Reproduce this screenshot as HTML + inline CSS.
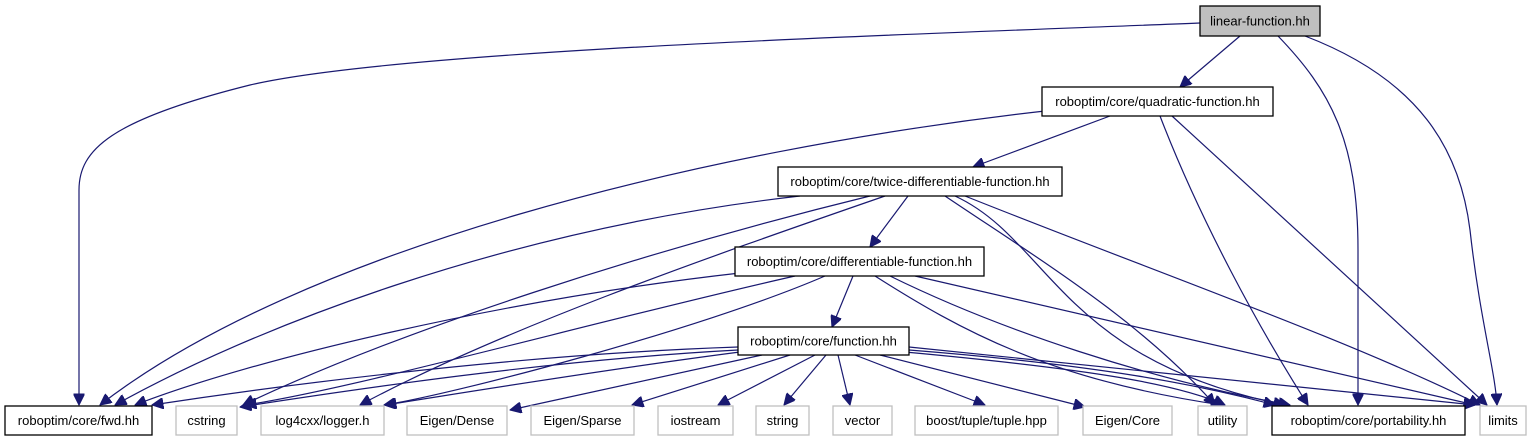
<!DOCTYPE html>
<html><head><meta charset="utf-8"><style>
body{margin:0;background:#fff;}
svg{display:block;}
text{font-family:"Liberation Sans",Arial,sans-serif;font-size:13px;text-anchor:middle;}
.e{fill:none;stroke:#191970;stroke-width:1.2;}
.b{fill:#fff;stroke:#000;stroke-width:1.3;}
.g{fill:#fff;stroke:#bfbfbf;stroke-width:1.3;}
</style></head><body>
<svg width="1531" height="443" viewBox="0 0 1531 443" xmlns="http://www.w3.org/2000/svg">
<defs><marker id="a" viewBox="0 0 10 10" refX="10" refY="5" markerWidth="12" markerHeight="11" markerUnits="userSpaceOnUse" orient="auto"><path d="M0,0 L10,5 L0,10 z" fill="#191970" stroke="#191970"/></marker></defs>
<g class="e" marker-end="url(#a)">
<path d="M1200,23 C900,35 400,50 250,85 C110,120 79,150 79,190 L79,405"/>
<path d="M1240,36 L1180,87"/>
<path d="M1278,36 C1330,90 1358,140 1358,250 L1358,405"/>
<path d="M1305,36 C1420,80 1460,150 1470,230 C1480,320 1495,370 1497,405"/>
<path d="M1045,111 C700,150 300,250 100,405"/>
<path d="M1110,116 L973,167"/>
<path d="M1160,116 C1200,220 1260,330 1308,405"/>
<path d="M1172,116 L1487,405"/>
<path d="M800,196 C500,230 250,330 115,405"/>
<path d="M870,196 C650,250 400,330 243,405"/>
<path d="M885,196 C700,260 500,330 360,405"/>
<path d="M908,196 L870,247"/>
<path d="M945,196 C1040,260 1140,320 1215,405"/>
<path d="M955,196 C1050,240 1060,360 1285,405"/>
<path d="M965,196 C1150,270 1350,340 1480,405"/>
<path d="M740,273 C500,300 250,360 135,405"/>
<path d="M795,276 C600,320 350,390 245,405"/>
<path d="M825,276 C700,330 450,395 384,405"/>
<path d="M853,276 L832,327"/>
<path d="M875,276 C960,330 1050,380 1222,405"/>
<path d="M890,276 C1000,330 1150,380 1290,405"/>
<path d="M915,276 L1475,405"/>
<path d="M738,347 C500,355 250,390 152,405"/>
<path d="M738,350 C550,360 350,390 240,407"/>
<path d="M740,352 C600,370 450,395 385,405"/>
<path d="M762,355 L510,410"/>
<path d="M790,355 L632,405"/>
<path d="M815,355 L718,405"/>
<path d="M826,355 L784,405"/>
<path d="M838,355 L850,405"/>
<path d="M855,355 L985,405"/>
<path d="M880,355 L1085,407"/>
<path d="M905,352 C1100,370 1180,385 1225,405"/>
<path d="M909,350 C1100,365 1200,385 1275,405"/>
<path d="M909,347 L1475,405"/>
</g>
<rect x="1200" y="6" width="120" height="30" fill="#bfbfbf" stroke="#000" stroke-width="1.3"/>
<text x="1260" y="25.5">linear-function.hh</text>
<rect class="b" x="1042" y="87" width="231" height="29"/><text x="1157.5" y="106">roboptim/core/quadratic-function.hh</text>
<rect class="b" x="778" y="167" width="284" height="29"/><text x="920" y="186">roboptim/core/twice-differentiable-function.hh</text>
<rect class="b" x="735" y="247" width="249" height="29"/><text x="859.5" y="266">roboptim/core/differentiable-function.hh</text>
<rect class="b" x="738" y="327" width="171" height="28"/><text x="823.5" y="345.5">roboptim/core/function.hh</text>
<rect class="b" x="5" y="406" width="147" height="29"/><text x="78.5" y="425">roboptim/core/fwd.hh</text>
<rect class="g" x="176" y="406" width="61" height="29"/><text x="206.5" y="425">cstring</text>
<rect class="g" x="261" y="406" width="123" height="29"/><text x="322.5" y="425">log4cxx/logger.h</text>
<rect class="g" x="407" y="406" width="100" height="29"/><text x="457" y="425">Eigen/Dense</text>
<rect class="g" x="531" y="406" width="103" height="29"/><text x="582.5" y="425">Eigen/Sparse</text>
<rect class="g" x="658" y="406" width="75" height="29"/><text x="695.5" y="425">iostream</text>
<rect class="g" x="756" y="406" width="53" height="29"/><text x="782.5" y="425">string</text>
<rect class="g" x="833" y="406" width="59" height="29"/><text x="862.5" y="425">vector</text>
<rect class="g" x="915" y="406" width="143" height="29"/><text x="986.5" y="425">boost/tuple/tuple.hpp</text>
<rect class="g" x="1083" y="406" width="89" height="29"/><text x="1127.5" y="425">Eigen/Core</text>
<rect class="g" x="1198" y="406" width="49" height="29"/><text x="1222.5" y="425">utility</text>
<rect class="b" x="1272" y="406" width="193" height="29"/><text x="1368.5" y="425">roboptim/core/portability.hh</text>
<rect class="g" x="1480" y="406" width="46" height="29"/><text x="1503" y="425">limits</text>
</svg>
</body></html>
